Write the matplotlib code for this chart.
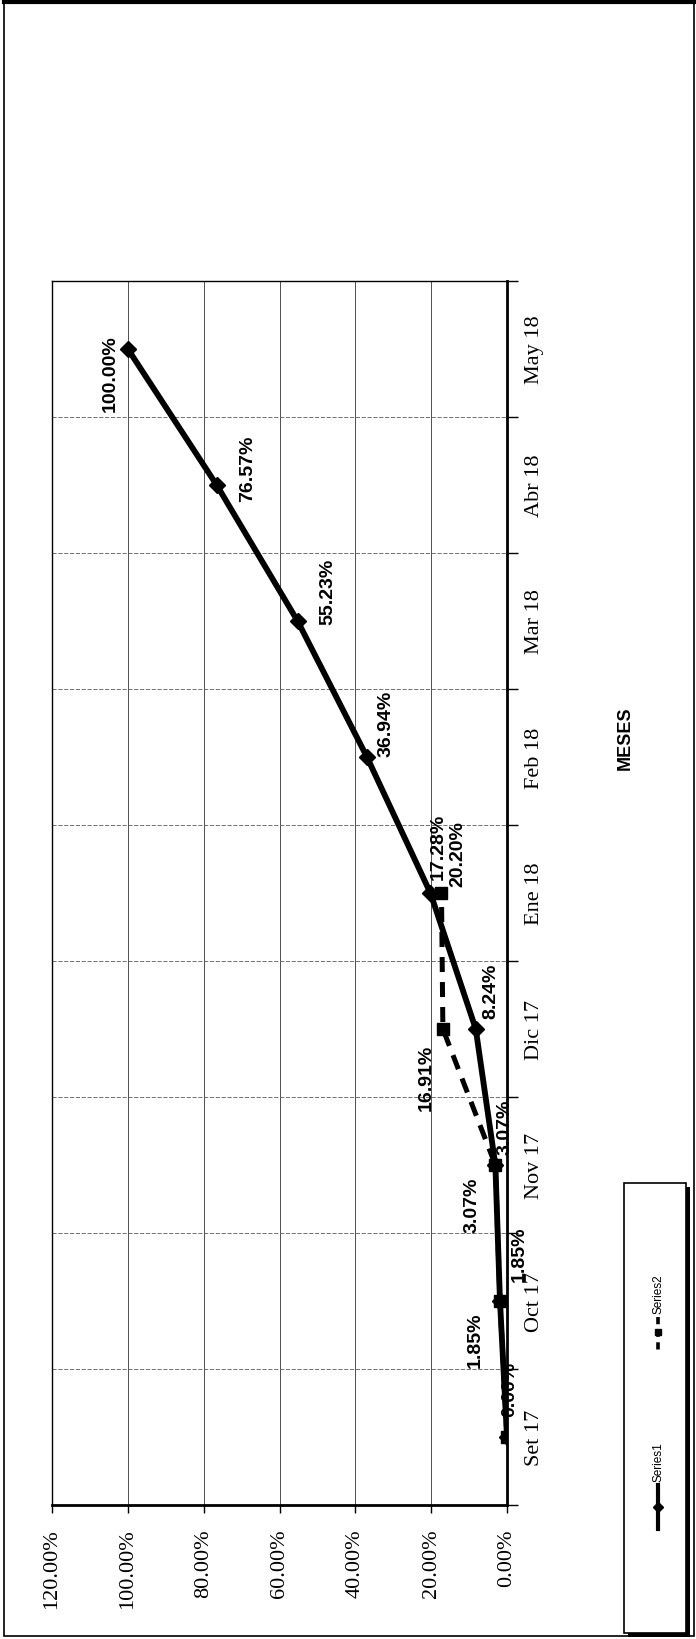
import numpy as np
import matplotlib
matplotlib.use('Agg')
import matplotlib.pyplot as plt
from matplotlib.lines import Line2D
from matplotlib.patches import Rectangle

# Avance acumulado por mes (porcentajes)
meses = ['Set 17', 'Oct 17', 'Nov 17', 'Dic 17', 'Ene 18', 'Feb 18', 'Mar 18', 'Abr 18', 'May 18']
series1 = [0.00, 1.85, 3.07, 8.24, 20.20, 36.94, 55.23, 76.57, 100.00]
series2 = [0.00, 1.85, 3.07, 16.91, 17.28]
value_ticks = [0, 20, 40, 60, 80, 100, 120]

# label offsets in pixels (right, down) and which end of the text sits on the offset point
s1_offsets = [(3, -21), (19, -20), (10, -11), (15, -11), (27, -7), (19, -1), (30, 3), (31, 16), (-18, 62)]
s2_offsets = [None, (-25, 10, 'right'), (-23, 12, 'right'), (-17, 15, 'right'), (-3, -14, 'left')]

W, H = 696, 1640
fig = plt.figure(figsize=(W / 100, H / 100), dpi=100)


def box(x0, y0, x1, y1):
    # pixel box measured from the top-left corner -> figure rect
    return [x0 / W, 1 - y1 / H, (x1 - x0) / W, (y1 - y0) / H]


serif = 'Liberation Serif'
sans = 'Liberation Sans'

ax = fig.add_axes(box(52, 282, 507, 1506))
ax.set_xlim(120, 0)
ax.set_ylim(-0.5, len(meses) - 0.5)

idx1 = np.arange(len(series1))
idx2 = np.arange(len(series2))
ax.plot(series2, idx2, color='black', lw=3.6, ls=(0, (3, 2)), marker='s', ms=9, zorder=3)
ax.plot(series1, idx1, color='black', lw=4.2, marker='D', ms=8.5, zorder=4)

# data labels, rotated with the chart
for v, i, (dx, dy) in zip(series1, idx1, s1_offsets):
    ax.annotate(f'{v:.2f}%', (v, i), xytext=(dx * 0.72, -dy * 0.72), textcoords='offset points',
                rotation=90, rotation_mode='anchor', ha='left', va='center',
                fontsize=14, fontweight='bold', family=sans, zorder=5)
for v, i, off in zip(series2, idx2, s2_offsets):
    if off is None:
        continue
    dx, dy, ha = off
    ax.annotate(f'{v:.2f}%', (v, i), xytext=(dx * 0.72, -dy * 0.72), textcoords='offset points',
                rotation=90, rotation_mode='anchor', ha=ha, va='center',
                fontsize=14, fontweight='bold', family=sans, zorder=5)

# value axis along the bottom
ax.set_xticks(value_ticks)
ax.set_xticklabels([f'{v:.2f}%' for v in value_ticks], rotation=90, family=serif, fontsize=16)
ax.tick_params(axis='x', direction='out', length=6, width=1, pad=11)
ax.grid(axis='x', color='black', lw=0.6, alpha=0.8)

# month axis along the right side
ax.yaxis.tick_right()
ax.set_yticks(idx1)
ax.set_yticklabels(meses, rotation=90, va='center', ha='left', family=serif, fontsize=16)
ax.set_yticks(np.arange(-0.5, len(meses)), minor=True)
ax.tick_params(axis='y', which='major', length=0, pad=13)
ax.tick_params(axis='y', which='minor', direction='out', length=8, width=1, right=True, left=False)
ax.grid(axis='y', which='minor', color='0.35', lw=0.6, ls=(0, (5, 2)))
ax.set_axisbelow(True)

for side, lw in [('right', 2.0), ('bottom', 2.0), ('left', 1.0), ('top', 1.0)]:
    ax.spines[side].set_linewidth(lw)

fig.text(625 / W, 1 - 738 / H, 'MESES', rotation=90, ha='center', va='center',
         fontsize=13, fontweight='bold', family=sans)

# legend box drawn by hand so it can be rotated with the chart
lax = fig.add_axes(box(616, 1176, 696, 1640))
lax.set_xlim(616, 696)
lax.set_ylim(1640, 1176)
lax.axis('off')
lax.add_patch(Rectangle((628, 1188), 62, 450, facecolor='black', edgecolor='none'))
lax.add_patch(Rectangle((624, 1184), 62, 450, facecolor='white', edgecolor='black', lw=1.2))
lax.plot([658, 658], [1486, 1530], color='black', lw=3)
lax.plot([658], [1508], color='black', marker='D', ms=5)
lax.text(658, 1482, 'Series1', rotation=90, rotation_mode='anchor', ha='left', va='center',
         fontsize=8.5, family=sans)
lax.plot([658, 658], [1318, 1354], color='black', lw=2.6, ls=(0, (2, 1.5)))
lax.plot([658], [1333], color='black', marker='s', ms=5)
lax.text(658, 1314, 'Series2', rotation=90, rotation_mode='anchor', ha='left', va='center',
         fontsize=8.5, family=sans)

# page frame
fig.add_artist(Rectangle((4 / W, 3 / H), 690 / W, 1634 / H, transform=fig.transFigure,
                         facecolor='none', edgecolor='black', lw=1.2))
fig.add_artist(Line2D([4 / W, 694 / W], [1 - 3 / H, 1 - 3 / H], transform=fig.transFigure,
                      color='black', lw=3))

fig.savefig('out.png', dpi=100)
